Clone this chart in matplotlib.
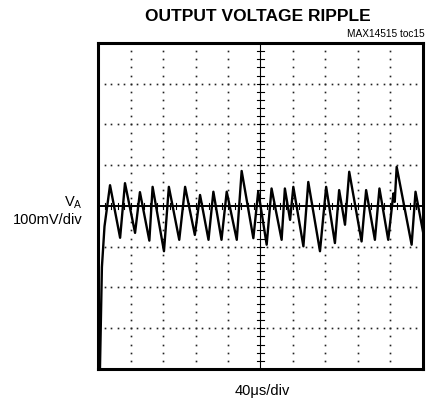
import matplotlib.pyplot as plt
import numpy as np

# scope trace vertices, time in us, voltage in mV (40us/div, 100mV/div)
t_us = [0.0, 2.4, 4.8, 8.0, 14.8, 27.2, 33.2, 45.6, 51.6, 63.2, 67.2, 81.2, 87.2,
        100.0, 107.2, 119.2, 125.6, 136.0, 142.0, 152.0, 158.4, 170.8, 176.8,
        191.2, 197.2, 207.6, 213.6, 226.0, 230.0, 236.4, 240.4, 252.8, 258.8,
        273.2, 280.8, 291.6, 296.8, 304.0, 309.2, 324.4, 330.0, 340.8, 346.4,
        357.2, 363.6, 365.2, 367.6, 386.0, 390.8, 400.0]
v_mV = [-400, -400, -150, -50, 51, -78, 56, -66, 34, -85, 47, -111, 47,
        -83, 47, -71, 27, -83, 35, -83, 35, -83, 86,
        -79, 36, -95, 43, -83, 43, -34, 47, -99, 59,
        -111, 47, -91, 39, -46, 84, -87, 39, -83, 43,
        -83, 31, 10, 96, -95, 35, -63]

x_divs = np.arange(0, 401, 40)
y_divs = np.arange(-400, 401, 100)

fig = plt.figure(figsize=(4.35, 4.03), dpi=100)
ax = fig.add_axes([0.2253, 0.0844, 0.7471, 0.8089])
ax.set_xlim(0, 400)
ax.set_ylim(-400, 400)

# dotted graticule
for x in x_divs[1:-1]:
    if x == 200:
        continue
    ys = np.arange(-400, 401, 20)
    ax.plot(np.full(len(ys), x), ys, ls='none', marker='s', ms=1.2, mec='none', mfc='#222222')
for y in y_divs[1:-1]:
    if y == 0:
        continue
    xs = np.arange(0, 401, 8)
    ax.plot(xs, np.full(len(xs), y), ls='none', marker='s', ms=1.2, mec='none', mfc='#222222')

# centre axes with minor ticks
ax.axvline(200, color='black', lw=0.8)
ax.axhline(0, color='black', lw=1.4)
for y in np.arange(-400, 401, 20):
    ax.plot([196, 204], [y, y], color='black', lw=0.8)
for x in np.arange(0, 401, 8):
    ax.plot([x, x], [-8, 8], color='black', lw=0.8)

ax.plot(t_us, v_mV, color='black', lw=1.7)

ax.set_xticks([])
ax.set_yticks([])
for s in ax.spines.values():
    s.set_linewidth(2.2)

fig.text(0.593, 0.958, 'OUTPUT VOLTAGE RIPPLE', ha='center', va='center',
         fontsize=12.5, fontweight='bold', family='Liberation Sans')
fig.text(0.977, 0.916, 'MAX14515 toc15', ha='right', va='center',
         fontsize=7.3, family='Liberation Sans')
fig.text(0.19, 0.489, r'V$_\mathregular{A}$', ha='right', va='baseline',
         fontsize=10.5, family='Liberation Sans')
fig.text(0.19, 0.444, '100mV/div', ha='right', va='baseline',
         fontsize=10.5, family='Liberation Sans')
fig.text(0.602, 0.02, '40\u03bcs/div', ha='center', va='baseline',
         fontsize=10.5, family='Liberation Sans')

fig.savefig('out.png', dpi=100)
